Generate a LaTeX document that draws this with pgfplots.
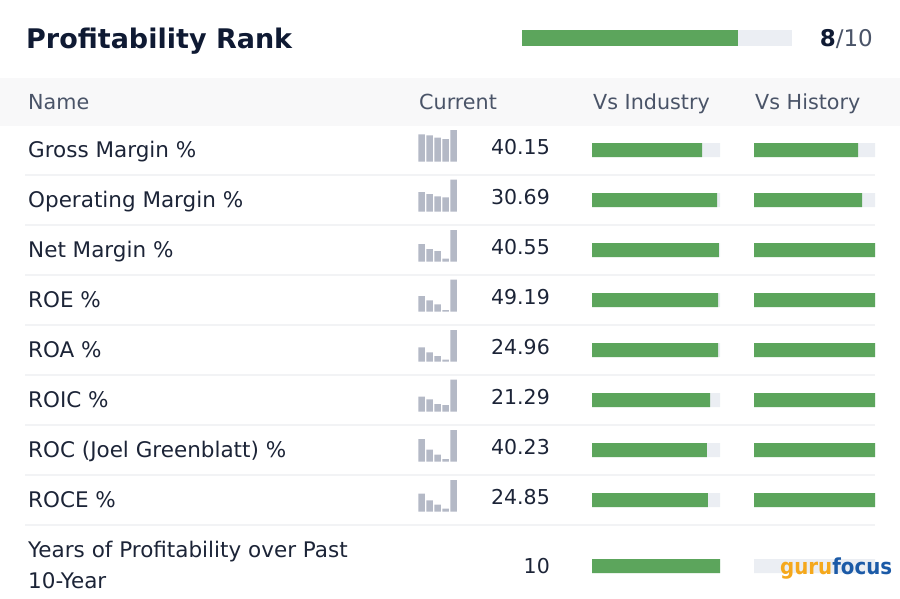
\documentclass[border=0pt]{standalone}
\usepackage{pgfplots}
\pgfplotsset{compat=1.18}
\usepackage{fontspec}
\setmainfont{DejaVu Sans}
\newfontfamily\logofont{DejaVu Sans Condensed}
\definecolor{titlecol}{HTML}{0F1A33}
\definecolor{textcol}{HTML}{1C2437}
\definecolor{headcol}{HTML}{4A5468}
\definecolor{barg}{HTML}{5CA55C}
\definecolor{track}{HTML}{EBEEF3}
\definecolor{headbg}{HTML}{F8F8F9}
\definecolor{sepcol}{HTML}{F2F3F5}
\definecolor{spark}{HTML}{B4B9C6}
\definecolor{guruor}{HTML}{F5A81C}
\definecolor{gurubl}{HTML}{1B5AA7}
\pgfplotsset{hbars/.style={scale only axis,hide axis,xbar,bar shift=0pt,clip=false,y dir=reverse}}
\newcommand{\spark}[2]{%
\begin{axis}[at={(417.6pt,-#1pt)},anchor=south west,scale only axis,width=40pt,height=32pt,
  xmin=-0.5,xmax=4.5,ymin=0,ymax=32,hide axis,ybar,bar width=6.6pt,bar shift=0pt,clip=false]
\addplot[fill=spark,draw=none] coordinates {#2};
\end{axis}}
\begin{document}
\begin{tikzpicture}
\path[use as bounding box] (0,0) rectangle (900pt,-598pt);
\begin{scope}[x=1pt,y=-1pt]
\fill[headbg] (0,78) rectangle (900,126);
\foreach \yy in {175,225,275,325,375,425,475,525} \draw[sepcol,line width=1.5pt] (25,\yy) -- (875,\yy);
\node[anchor=base west,inner sep=0,text=titlecol,font=\fontsize{27pt}{31pt}\selectfont\bfseries] at (26,48.3) {Profitability Rank};
\node[anchor=base east,inner sep=0,font=\fontsize{23pt}{26pt}\selectfont] at (873,46) {\textcolor{titlecol}{\bfseries 8}\textcolor{headcol}{/10}};
\begin{scope}[every node/.style={anchor=base west,inner sep=0,text=headcol,font=\fontsize{20.7pt}{24pt}\selectfont}]
\node at (28,109.5) {Name};
\node at (419,109.5) {Current};
\node at (593,109.5) {Vs Industry};
\node at (755,109.5) {Vs History};
\end{scope}
\begin{scope}[every node/.style={anchor=base west,inner sep=0,text=textcol,font=\fontsize{21.5pt}{25pt}\selectfont}]
\node at (28,157.3) {Gross Margin \%};
\node at (28,207.3) {Operating Margin \%};
\node at (28,257.3) {Net Margin \%};
\node at (28,307.3) {ROE \%};
\node at (28,357.3) {ROA \%};
\node at (28,407.3) {ROIC \%};
\node at (28,457.3) {ROC (Joel Greenblatt) \%};
\node at (28,507.3) {ROCE \%};
\node at (28,557.5) {Years of Profitability over Past};
\node at (28,588.5) {10-Year};
\end{scope}
\begin{scope}[every node/.style={anchor=base east,inner sep=0,text=textcol,font=\fontsize{20.5pt}{24pt}\selectfont}]
\node at (550,154.3) {40.15};
\node at (550,204.3) {30.69};
\node at (550,254.3) {40.55};
\node at (550,304.3) {49.19};
\node at (550,354.3) {24.96};
\node at (550,404.3) {21.29};
\node at (550,454.3) {40.23};
\node at (550,504.3) {24.85};
\node at (550,573.5) {10};
\end{scope}
\end{scope}
% rank bar
\begin{axis}[hbars,at={(522pt,-30pt)},anchor=north west,width=270pt,height=16pt,xmin=0,xmax=10,ymin=0,ymax=1,bar width=16pt]
\addplot[fill=track,draw=none] coordinates {(10,0.5)};
\addplot[fill=barg,draw=none] coordinates {(8,0.5)};
\end{axis}
% vs industry
\begin{axis}[hbars,at={(592pt,0pt)},anchor=north west,width=128pt,height=598pt,xmin=0,xmax=100,ymin=0,ymax=598,bar width=14pt]
\addplot[fill=track,draw=none] coordinates {(100,150) (100,200) (100,250) (100,300) (100,350) (100,400) (100,450) (100,500) (100,566)};
\addplot[fill=barg,draw=none] coordinates {(86,150) (97.7,200) (99.2,250) (98.6,300) (98.6,350) (92.2,400) (89.8,450) (90.6,500) (100,566)};
\end{axis}
% vs history
\begin{axis}[hbars,at={(754pt,0pt)},anchor=north west,width=121pt,height=598pt,xmin=0,xmax=100,ymin=0,ymax=598,bar width=14pt]
\addplot[fill=track,draw=none] coordinates {(100,150) (100,200) (100,250) (100,300) (100,350) (100,400) (100,450) (100,500) (100,566)};
\addplot[fill=barg,draw=none] coordinates {(86,150) (89.3,200) (100,250) (100,300) (100,350) (100,400) (100,450) (100,500)};
\end{axis}
% sparklines
\spark{161.7}{(0,27.3) (1,26.3) (2,24) (3,22.7) (4,31.7)}
\spark{211.7}{(0,19.7) (1,17.7) (2,15.3) (3,14.3) (4,32)}
\spark{261.7}{(0,17.7) (1,12.7) (2,10.7) (3,3) (4,31.7)}
\spark{311.7}{(0,15.7) (1,11.3) (2,7.3) (3,1.7) (4,32)}
\spark{361.7}{(0,14.3) (1,9.3) (2,5.7) (3,2) (4,31.7)}
\spark{411.7}{(0,15) (1,12.3) (2,7.7) (3,6.7) (4,32)}
\spark{461.7}{(0,22.7) (1,12) (2,7) (3,2.7) (4,31.7)}
\spark{511.7}{(0,18) (1,11.3) (2,7) (3,3) (4,31.7)}
% logo
\node[anchor=base west,inner sep=0,font=\fontsize{22pt}{24pt}\logofont\bfseries] at (780pt,-574pt) {\textcolor{guruor}{guru}\textcolor{gurubl}{focus}};
\end{tikzpicture}
\end{document}
